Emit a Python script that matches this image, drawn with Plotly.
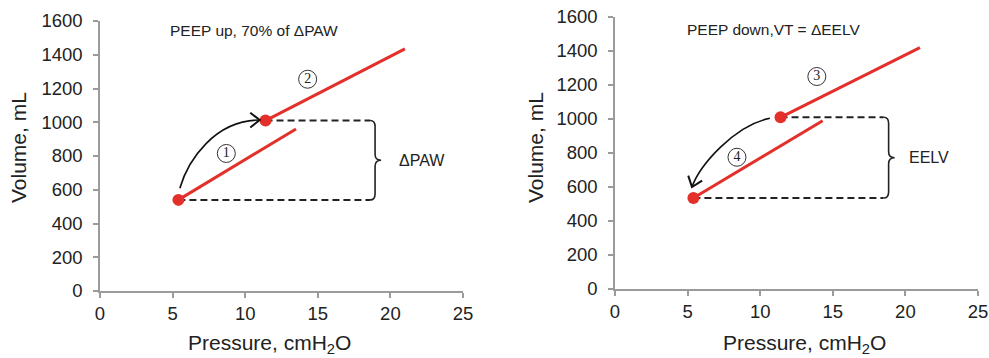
import math
import plotly.graph_objects as go

W, H = 989, 358

# ---- data ---------------------------------------------------------------
x_ticks = [0, 5, 10, 15, 20, 25]
y_ticks = [0, 200, 400, 600, 800, 1000, 1200, 1400, 1600]

# Panel A: PEEP up
up_points_x = [5.4, 11.4]
up_points_y = [540, 1010]
limb1_x = [5.4, 13.5]
limb1_y = [540, 960]
limb2_x = [11.4, 21.0]
limb2_y = [1010, 1435]
up_bracket_x = 18.6
up_label_pos = [8.7, 815]      # circled "1"
up_label2_pos = [14.3, 1255]   # circled "2"
up_arrow = [[5.5, 609], [6.06, 776], [7.92, 1013], [11.0, 1013]]

# Panel B: PEEP down
down_points_x = [11.4, 5.4]
down_points_y = [1010, 535]
limb3_x = [11.4, 21.0]
limb3_y = [1010, 1420]
limb4_x = [5.4, 14.3]
limb4_y = [535, 990]
down_bracket_x = 18.5
down_label3_pos = [13.9, 1250]
down_label4_pos = [8.4, 775]
down_arrow = [[10.67, 1004], [8.26, 965], [5.85, 729], [5.30, 600]]

RED = "#e3302a"
INK = "#222222"
AXIS = "#9b9b9b"
FONT = "Liberation Sans, Arial, sans-serif"

# panel frames in pixels: (left, right, top, bottom)
frames = {
    1: (100, 463, 21, 291),
    2: (615, 978, 17, 289),
}


def dom(f):
    l, r, t, b = f
    return [l / W, r / W], [(H - b) / H, (H - t) / H]


fig = go.Figure()


def axis_style(**kw):
    d = dict(
        showline=True, linecolor=AXIS, linewidth=1.5,
        ticks="outside", ticklen=5, tickwidth=1.5, tickcolor=AXIS,
        showgrid=False, zeroline=False, fixedrange=True, automargin=False,
        tickfont=dict(family=FONT, size=18.5, color=INK),
    )
    d.update(kw)
    return d


layout_axes = {}
for i, f in frames.items():
    xd, yd = dom(f)
    sfx = "" if i == 1 else str(i)
    layout_axes["xaxis" + sfx] = axis_style(
        domain=xd, range=[0, 25], tickvals=x_ticks, anchor="y" + sfx,
        ticklabelstandoff=0)
    layout_axes["yaxis" + sfx] = axis_style(
        domain=yd, range=[0, 1600], tickvals=y_ticks, anchor="x" + sfx,
        ticklabelstandoff=7)


def scale(i):
    l, r, t, b = frames[i]
    return (r - l) / 25.0, (b - t) / 1600.0


def add_panel(i, limbs, dots_x, dots_y, bracket_x, circled, arrow, title,
              title_pos, brace_label, brace_label_x):
    xr = "x" if i == 1 else "x" + str(i)
    yr = "y" if i == 1 else "y" + str(i)
    sx, sy = scale(i)

    # dashed level lines from each end-expiratory point
    for yv, xv in zip(dots_y, dots_x):
        fig.add_trace(go.Scatter(
            x=[xv, bracket_x], y=[yv, yv], mode="lines", xaxis=xr, yaxis=yr,
            line=dict(color=INK, width=2, dash="7px,4px"),
            hoverinfo="skip", showlegend=False))

    # compliance limbs
    for lx, ly in limbs:
        fig.add_trace(go.Scatter(
            x=lx, y=ly, mode="lines", xaxis=xr, yaxis=yr,
            line=dict(color=RED, width=3), hoverinfo="skip", showlegend=False))

    # end-expiratory points
    fig.add_trace(go.Scatter(
        x=dots_x, y=dots_y, mode="markers", xaxis=xr, yaxis=yr,
        marker=dict(color=RED, size=12), hoverinfo="skip", showlegend=False))

    # circled step numbers
    fig.add_trace(go.Scatter(
        x=[c[0] for c in circled], y=[c[1] for c in circled],
        text=[c[2] for c in circled], mode="markers+text",
        textposition="middle center", xaxis=xr, yaxis=yr,
        textfont=dict(family="Liberation Serif, serif", size=14, color=INK),
        marker=dict(symbol="circle-open", size=18, color="#333333",
                    line=dict(width=1)),
        hoverinfo="skip", showlegend=False))

    # curly brace spanning the two volume levels
    y_hi, y_lo = max(dots_y), min(dots_y)
    y_mid = (y_hi + y_lo) / 2
    rx = 5 / sx
    ry = 6 / sy
    bx = bracket_x + rx
    nub = bx + 6 / sx
    path = (f"M {bracket_x},{y_hi} Q {bx},{y_hi} {bx},{y_hi - ry} "
            f"L {bx},{y_mid + ry} Q {bx},{y_mid} {nub},{y_mid} "
            f"Q {bx},{y_mid} {bx},{y_mid - ry} "
            f"L {bx},{y_lo + ry} Q {bx},{y_lo} {bracket_x},{y_lo}")
    fig.add_shape(type="path", path=path, xref=xr, yref=yr,
                  line=dict(color=INK, width=1.6))
    fig.add_annotation(x=brace_label_x, y=y_mid, xref=xr, yref=yr,
                       text=brace_label, showarrow=False, xanchor="left",
                       font=dict(family=FONT, size=16, color=INK))

    # curved transition arrow
    (x0, y0), (c1x, c1y), (c2x, c2y), (x1, y1) = arrow
    fig.add_shape(type="path", xref=xr, yref=yr,
                  path=f"M {x0},{y0} C {c1x},{c1y} {c2x},{c2y} {x1},{y1}",
                  line=dict(color="#111111", width=1.6))
    # open chevron head, built in pixel space along the end tangent
    dxp, dyp = (x1 - c2x) * sx, -(y1 - c2y) * sy
    n = math.hypot(dxp, dyp)
    ux, uy = -dxp / n, -dyp / n
    arms = []
    for ang in (math.radians(38), math.radians(-38)):
        ax = ux * math.cos(ang) - uy * math.sin(ang)
        ay = ux * math.sin(ang) + uy * math.cos(ang)
        arms.append((x1 + ax * 12 / sx, y1 - ay * 12 / sy))
    fig.add_shape(type="path", xref=xr, yref=yr,
                  path=(f"M {arms[0][0]},{arms[0][1]} L {x1},{y1} "
                        f"L {arms[1][0]},{arms[1][1]}"),
                  line=dict(color="#111111", width=2))

    # panel caption
    fig.add_annotation(x=title_pos[0], y=title_pos[1], xref=xr, yref=yr,
                       text=title, showarrow=False, xanchor="left",
                       yanchor="middle",
                       font=dict(family=FONT, size=15.5, color=INK))


add_panel(1, [(limb1_x, limb1_y), (limb2_x, limb2_y)], up_points_x,
          up_points_y, up_bracket_x,
          [up_label_pos + ["1"], up_label2_pos + ["2"]], up_arrow,
          "PEEP up, 70% of ΔPAW", [4.65, 1541], "ΔPAW", 20.45)
add_panel(2, [(limb3_x, limb3_y), (limb4_x, limb4_y)], down_points_x,
          down_points_y, down_bracket_x,
          [down_label3_pos + ["3"], down_label4_pos + ["4"]], down_arrow,
          "PEEP down,VT = ΔEELV", [4.8, 1524], "EELV", 20.1)

# axis titles
for cx in (269, 804):
    fig.add_annotation(x=cx / W, y=(H - 344) / H, xref="paper", yref="paper",
                       text="Pressure, cmH<sub>2</sub>O", showarrow=False,
                       xanchor="center", yanchor="middle",
                       font=dict(family=FONT, size=21, color=INK))
for cx in (18, 535):
    fig.add_annotation(x=cx / W, y=(H - 148) / H, xref="paper", yref="paper",
                       text="Volume, mL", textangle=-90, showarrow=False,
                       xanchor="center", yanchor="middle",
                       font=dict(family=FONT, size=21, color=INK))

fig.update_layout(
    width=W, height=H, margin=dict(l=0, r=0, t=0, b=0),
    paper_bgcolor="white", plot_bgcolor="white", showlegend=False,
    **layout_axes,
)

fig.write_html("out.html", config={"displayModeBar": False})
